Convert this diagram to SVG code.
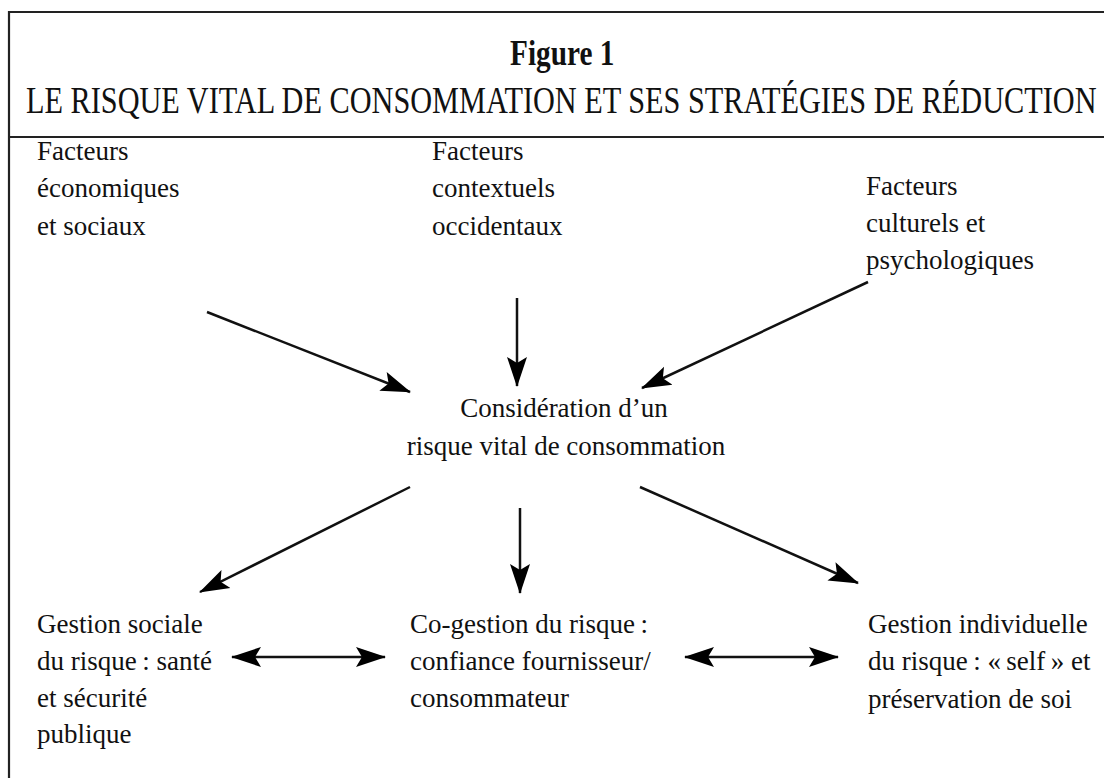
<svg xmlns="http://www.w3.org/2000/svg" width="1104" height="778" viewBox="0 0 1104 778">
<style>
.t{font-family:"Liberation Serif","Times New Roman",serif;font-size:27px;fill:#111}
.c{text-anchor:middle}
.ln{stroke:#111;stroke-width:2.5;fill:none}
.fr{stroke:#222;stroke-width:2.2;fill:none}
</style>
<defs>
<marker id="ah" markerUnits="userSpaceOnUse" markerWidth="32" markerHeight="22" refX="29" refY="11" orient="auto-start-reverse" viewBox="0 0 32 22">
<path d="M0,1 L30,11 L0,21 L6,11 Z" fill="#000"/>
</marker>
</defs>
<rect width="1104" height="778" fill="#fff"/>
<g id="frame">
<path class="fr" d="M1104,12 H9 V778"/>
<path class="fr" d="M9,137 H1104"/>
</g>
<g id="title">
<text class="t" transform="translate(510,65) scale(0.837,1)" style="font-size:35px;font-weight:bold">Figure 1</text>
<text class="t" transform="translate(26,113) scale(0.818,1)" style="font-size:37px">LE RISQUE VITAL DE CONSOMMATION ET SES STRATÉGIES DE RÉDUCTION</text>
</g>
<g id="n-eco">
<text class="t" x="37" y="160">Facteurs</text>
<text class="t" x="37" y="197">économiques</text>
<text class="t" x="37" y="235">et sociaux</text>
</g>
<g id="n-ctx">
<text class="t" x="432" y="160">Facteurs</text>
<text class="t" x="432" y="197">contextuels</text>
<text class="t" x="432" y="235">occidentaux</text>
</g>
<g id="n-cult">
<text class="t" x="866" y="195">Facteurs</text>
<text class="t" x="866" y="232">culturels et</text>
<text class="t" x="866" y="269">psychologiques</text>
</g>
<g id="n-center">
<text class="t c" x="564" y="417">Considération d’un</text>
<text class="t c" x="566" y="455">risque vital de consommation</text>
</g>
<g id="n-soc">
<text class="t" x="37" y="633">Gestion sociale</text>
<text class="t" x="37" y="670">du risque&#8201;: santé</text>
<text class="t" x="37" y="707">et sécurité</text>
<text class="t" x="37" y="743">publique</text>
</g>
<g id="n-co">
<text class="t" x="410" y="633">Co-gestion du risque&#8201;:</text>
<text class="t" x="410" y="670">confiance fournisseur/</text>
<text class="t" x="410" y="707">consommateur</text>
</g>
<g id="n-ind">
<text class="t" x="868" y="633">Gestion individuelle</text>
<text class="t" x="868" y="670">du risque&#8201;: «&#8201;self&#8201;» et</text>
<text class="t" x="868" y="708">préservation de soi</text>
</g>
<g id="connectors">
<line class="ln" x1="207" y1="312" x2="410" y2="392" marker-end="url(#ah)"/>
<line class="ln" x1="517" y1="298" x2="517" y2="386" marker-end="url(#ah)"/>
<line class="ln" x1="868" y1="282" x2="642" y2="388" marker-end="url(#ah)"/>
<line class="ln" x1="410" y1="487" x2="200" y2="592" marker-end="url(#ah)"/>
<line class="ln" x1="520" y1="508" x2="520" y2="593" marker-end="url(#ah)"/>
<line class="ln" x1="640" y1="487" x2="858" y2="583" marker-end="url(#ah)"/>
<line class="ln" x1="232" y1="657" x2="385" y2="657" marker-start="url(#ah)" marker-end="url(#ah)"/>
<line class="ln" x1="685" y1="657" x2="838" y2="657" marker-start="url(#ah)" marker-end="url(#ah)"/>
</g>
</svg>
